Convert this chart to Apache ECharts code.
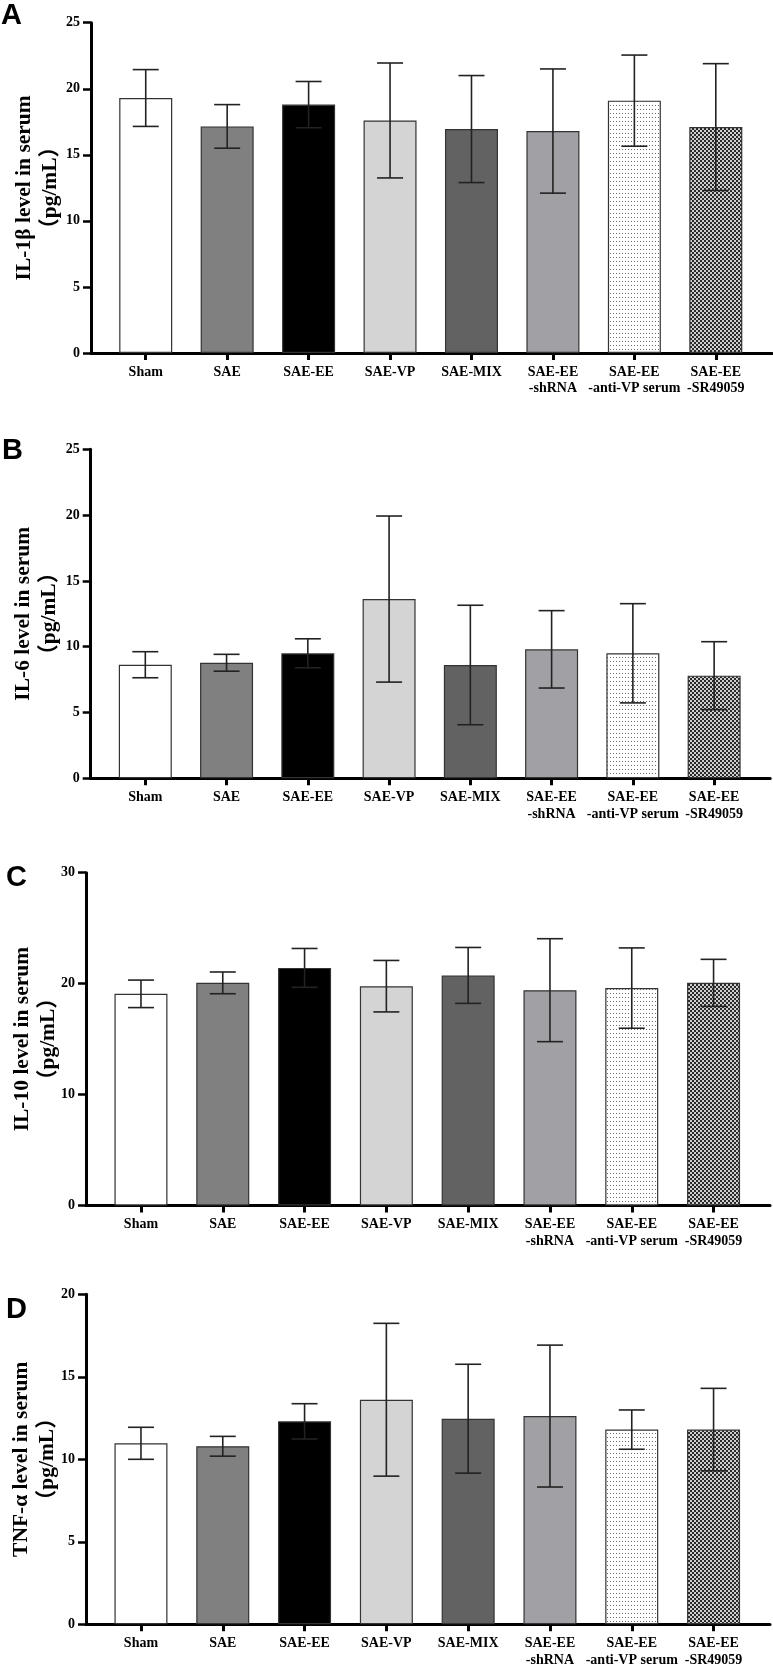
<!DOCTYPE html>
<html>
<head>
<meta charset="utf-8">
<script src="https://cdn.jsdelivr.net/npm/echarts@6/dist/echarts.min.js"></script>
<style>
html,body{margin:0;padding:0;background:#fff;}
#chart{width:773px;height:1666px;}
</style>
</head>
<body>
<div id="chart"></div>
<script>
// ---- data ----
const categories = ["Sham", "SAE", "SAE-EE", "SAE-VP", "SAE-MIX", "SAE-EE\n-shRNA", "SAE-EE\n-anti-VP serum", "SAE-EE\n-SR49059"];
const il1bMean = [19.3, 17.15, 18.8, 17.6, 16.95, 16.8, 19.1, 17.1];
const il1bErr  = [2.15, 1.65, 1.75, 4.35, 4.05, 4.7, 3.45, 4.8];
const il6Mean  = [8.63, 8.78, 9.5, 13.62, 8.61, 9.8, 9.5, 7.8];
const il6Err   = [0.99, 0.64, 1.1, 6.31, 4.54, 2.94, 3.77, 2.58];
const il10Mean = [19.08, 20.07, 21.42, 19.77, 20.74, 19.41, 19.6, 20.07];
const il10Err  = [1.24, 0.98, 1.75, 2.32, 2.52, 4.64, 3.62, 2.12];
const tnfMean  = [10.97, 10.79, 12.3, 13.61, 12.46, 12.62, 11.8, 11.8];
const tnfErr   = [0.97, 0.6, 1.07, 4.63, 3.3, 4.3, 1.19, 2.5];
const yTitles = ["IL-1β level in serum", "IL-6 level in serum", "IL-10 level in serum", "TNF-α level in serum"];
const yUnit = "（pg/mL）";
const yMaxes = [25, 25, 30, 20];
const yIntervals = [5, 5, 10, 5];
const panelLetters = ["A", "B", "C", "D"];

// ---- fills ----
function dotsPattern() {
  const c = document.createElement('canvas'); c.width = 3; c.height = 4;
  const g = c.getContext('2d');
  g.fillStyle = '#ffffff'; g.fillRect(0, 0, 3, 4);
  g.fillStyle = '#6a6a6a'; g.fillRect(1, 1, 1, 1);
  return c;
}
function checkerPattern() {
  const c = document.createElement('canvas'); c.width = 4; c.height = 4;
  const g = c.getContext('2d');
  g.fillStyle = '#cfcfcf'; g.fillRect(0, 0, 4, 4);
  g.fillStyle = '#2a2a2a'; g.fillRect(0, 0, 2, 2); g.fillRect(2, 2, 2, 2);
  return c;
}
const fills = ['#ffffff', '#808080', '#000000', '#d4d4d4', '#626262', '#a1a1a5',
  {image: dotsPattern(), repeat: 'repeat'}, {image: checkerPattern(), repeat: 'repeat'}];

const panels = [
  {mean: il1bMean, err: il1bErr},
  {mean: il6Mean, err: il6Err},
  {mean: il10Mean, err: il10Err},
  {mean: tnfMean, err: tnfErr}
];

// layout (pixels)
const grids = [
  {left: 91, top: 22.7, width: 681, height: 330.3},
  {left: 90.7, top: 449.3, width: 679.5, height: 329},
  {left: 86, top: 872.7, width: 684, height: 332.8},
  {left: 86, top: 1294.3, width: 684, height: 330}
];
const letterPos = [[1, 1], [2, 436], [6, 863], [6, 1295]];
const titleX = [37, 36.5, 35, 34];

const serif = '"Liberation Serif", "Times New Roman", "Noto Sans CJK SC", serif';
const tickIdx = categories.map((c, i) => i);

const graphics = [];
panelLetters.forEach((t, k) => {
  graphics.push({
    type: 'text', left: letterPos[k][0], top: letterPos[k][1],
    style: {text: t, font: 'bold 29px "Liberation Sans", Arial, sans-serif', fill: '#000'}
  });
  graphics.push({
    type: 'text', x: titleX[k], y: grids[k].top + grids[k].height / 2, rotation: Math.PI / 2,
    style: {text: yTitles[k] + '\n' + yUnit, font: 'bold 21.5px ' + serif, lineHeight: 26,
      fill: '#000', textAlign: 'center', textVerticalAlign: 'middle', align: 'center', verticalAlign: 'middle'}
  });
});

const option = {
  backgroundColor: '#ffffff',
  animation: false,
  grid: grids.map(g => Object.assign({containLabel: false, outerBoundsMode: 'none'}, g)),
  xAxis: grids.map((g, k) => ({
    type: 'value', gridIndex: k, min: -0.672, max: 7.69,
    splitLine: {show: false},
    axisLine: {show: true, onZero: false, lineStyle: {color: '#000', width: 3}},
    axisTick: {show: true, customValues: tickIdx, length: 7, lineStyle: {color: '#000', width: 3}},
    axisLabel: {show: true, customValues: tickIdx, margin: 11,
      formatter: v => categories[Math.round(v)] || '',
      fontFamily: serif, fontWeight: 'bold', fontSize: 14, lineHeight: 16.5, color: '#000'}
  })),
  yAxis: grids.map((g, k) => ({
    type: 'value', gridIndex: k, min: 0, max: yMaxes[k], interval: yIntervals[k],
    splitLine: {show: false},
    axisLine: {show: true, onZero: false, lineStyle: {color: '#000', width: 3}},
    axisTick: {show: true, length: 8, lineStyle: {color: '#000', width: 2.5}},
    axisLabel: {margin: 11, fontFamily: serif, fontWeight: 'bold', fontSize: 14, color: '#000'}
  })),
  graphic: graphics,
  series: []
};

panels.forEach((p, k) => {
  option.series.push({
    type: 'bar', xAxisIndex: k, yAxisIndex: k, barWidth: 53,
    data: p.mean.map((m, i) => ({value: [i, m], itemStyle: {color: fills[i]}})),
    itemStyle: {borderColor: '#333', borderWidth: 1.2}
  });
  option.series.push({
    type: 'custom', xAxisIndex: k, yAxisIndex: k, z: 5,
    encode: {x: 0, y: 1},
    data: p.mean.map((m, i) => [i, m, p.err[i]]),
    renderItem: function (params, api) {
      const x = api.value(0), m = api.value(1), e = api.value(2);
      const t = api.coord([x, m + e]);
      const b = api.coord([x, m - e]);
      const hw = 13;
      const st = {stroke: '#222', lineWidth: 1.6};
      return {type: 'group', children: [
        {type: 'line', shape: {x1: t[0], y1: t[1], x2: b[0], y2: b[1]}, style: st},
        {type: 'line', shape: {x1: t[0] - hw, y1: t[1], x2: t[0] + hw, y2: t[1]}, style: st},
        {type: 'line', shape: {x1: b[0] - hw, y1: b[1], x2: b[0] + hw, y2: b[1]}, style: st}
      ]};
    }
  });
});

const chart = echarts.init(document.getElementById('chart'), null, {renderer: 'canvas', width: 773, height: 1666});
chart.setOption(option);
</script>
</body>
</html>
